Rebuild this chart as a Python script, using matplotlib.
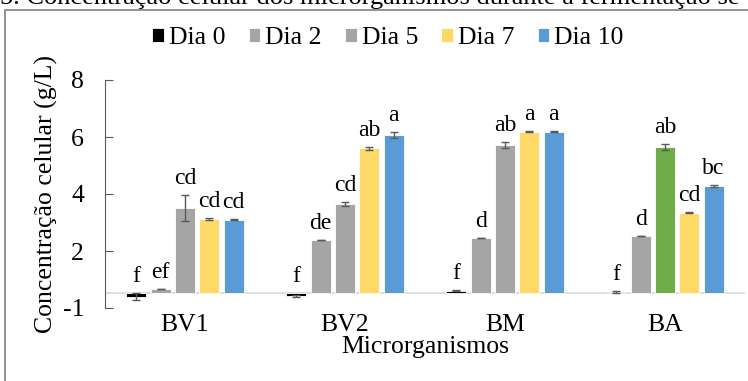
import matplotlib
matplotlib.use("Agg")
import matplotlib.pyplot as plt
import numpy as np

plt.rcParams['font.family'] = 'serif'
plt.rcParams['font.serif'] = ['Liberation Serif', 'DejaVu Serif']

# dados
micro = ['BV1', 'BV2', 'BM', 'BA']
dias = ['Dia 0', 'Dia 2', 'Dia 5', 'Dia 7', 'Dia 10']
valores = [
    [0.40, 0.68, 3.50, 3.12, 3.10],
    [0.43, 2.39, 3.64, 5.60, 6.06],
    [0.61, 2.47, 5.72, 6.19, 6.19],
    [0.56, 2.53, 5.64, 3.35, 4.28],
]
erros = [
    [0.13, 0.00, 0.45, 0.03, 0.02],
    [0.04, 0.00, 0.07, 0.04, 0.10],
    [0.03, 0.00, 0.10, 0.03, 0.03],
    [0.04, 0.00, 0.10, 0.02, 0.02],
]
letras = [
    ['f', 'ef', 'cd', 'cd', 'cd'],
    ['f', 'de', 'cd', 'ab', 'a'],
    ['f', 'd', 'ab', 'a', 'a'],
    ['f', 'd', 'ab', 'cd', 'bc'],
]
base = 0.53
yticks = [0, 2, 4, 6, 8]
ytick_labels = ['-1', '2', '4', '6', '8']

cores = ['#000000', '#A5A5A5', '#A5A5A5', '#FFD966', '#5B9BD5']
cor_ba_dia5 = '#70AD47'

fs = 18.5

fig = plt.figure(figsize=(7.48, 3.81), dpi=100)
ax = fig.add_axes([105/748, 1 - 308/381, 640/748, 228/381])

x = np.arange(len(micro))
passo = 0.152
larg = 0.125
for i, dia in enumerate(dias):
    pos = x + (i - 2) * passo
    vals = np.array([v[i] for v in valores])
    errs = np.array([e[i] for e in erros])
    cols = [cores[i]] * len(micro)
    if i == 2:
        cols[3] = cor_ba_dia5
    ax.bar(pos, vals - base, bottom=base, width=larg, color=cols,
           edgecolor='white', linewidth=0.6, label=dia, zorder=3)
    ax.errorbar(pos, vals, yerr=errs, fmt='none', ecolor='#595959',
                elinewidth=1, capsize=3, capthick=1, zorder=4)
    for j in range(len(micro)):
        topo = max(vals[j] + errs[j], base)
        ax.text(pos[j], topo + 0.58, letras[j][i], ha='center', va='center',
                fontsize=17)

ax.axhline(base, color='#D9D9D9', lw=1.2, zorder=2)
ax.set_xlim(-0.5, 3.5)
ax.set_ylim(0, 8)
ax.set_yticks(yticks)
ax.set_yticklabels(ytick_labels)
ax.set_xticks(x)
ax.set_xticklabels(micro)
for s in ['top', 'right', 'bottom']:
    ax.spines[s].set_visible(False)
ax.spines['left'].set_color('#595959')
ax.tick_params(axis='y', direction='in', length=6, color='#595959',
               labelsize=fs, pad=15)
ax.tick_params(axis='x', length=0, labelsize=fs, pad=4)
ax.set_xlabel('Microrganismos', fontsize=fs, labelpad=0)
ax.set_ylabel('Concentração celular (g/L)', fontsize=fs, labelpad=3)

ax.legend(loc='center', bbox_to_anchor=(388/748, 1 - 38/381),
          bbox_transform=fig.transFigure, ncol=5, frameon=False,
          fontsize=fs, handlelength=0.45, handleheight=0.45,
          handletextpad=0.2, columnspacing=0.9, borderpad=0)

# moldura da area do grafico (cortada na imagem)
fig.patches.append(plt.Rectangle((5/748, -0.1), 1.2, 0.1 + (1 - 10/381),
                                 transform=fig.transFigure, fill=False,
                                 edgecolor='#7F7F7F', lw=1.2))
fig.text(0, 1 - 4/381, '5. Concentração celular dos microrganismos durante a fermentação se',
         fontsize=19, va='baseline', ha='left')

fig.savefig('out.png', dpi=100)
